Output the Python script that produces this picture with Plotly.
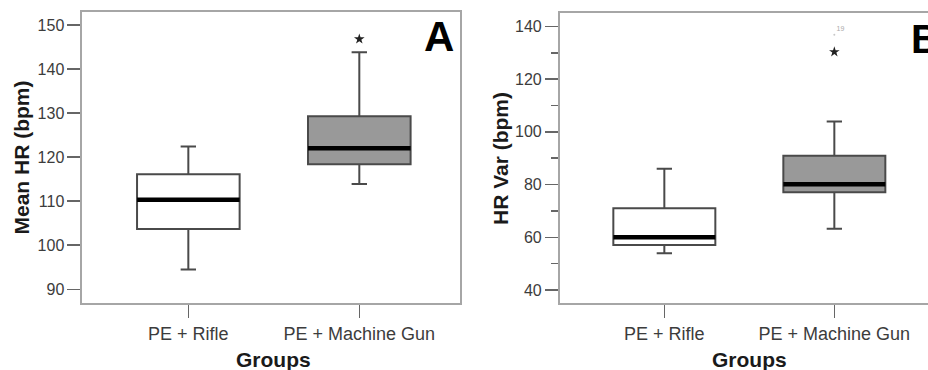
import plotly.graph_objects as go

# ---------------- data ----------------
groups = ["PE + Rifle", "PE + Machine Gun"]

# Panel A: Mean HR (bpm)
a_lower = [94.5, 113.9]
a_q1 = [103.7, 118.4]
a_median = [110.3, 122.0]
a_q3 = [116.1, 129.3]
a_upper = [122.4, 143.8]
a_out_group = [1]
a_out_value = [146.8]

# Panel B: HR Var (bpm)
b_lower = [53.9, 63.2]
b_q1 = [57.1, 77.1]
b_median = [60.0, 80.1]
b_q3 = [71.0, 90.9]
b_upper = [86.0, 103.9]
b_out_group = [1]
b_out_value = [130.3]
b_far_group = [1]
b_far_value = [136.8]
b_far_label = ["19"]

fills = ["#ffffff", "#999999"]

# ---------------- style ----------------
BOX_W = 0.6
FONT = "Liberation Sans, Arial, sans-serif"
LINE_C = "#4a4a4a"
FRAME_C = "#a6a6a6"
TICK_C = "#666666"
LABEL_C = "#3c3c3c"

fig = go.Figure()
shapes = []


def add_panel(xa, ya, lower, q1, med, q3, upper):
    for i, g in enumerate(groups):
        fig.add_trace(go.Box(
            x=[i], q1=[q1[i]], median=[med[i]], q3=[q3[i]],
            lowerfence=[lower[i]], upperfence=[upper[i]],
            width=BOX_W, whiskerwidth=0.15, fillcolor=fills[i],
            line=dict(color=LINE_C, width=2), boxpoints=False,
            xaxis=xa, yaxis=ya, showlegend=False, hoverinfo="skip"))
        shapes.append(dict(type="line", xref=xa, yref=ya,
                           x0=i - BOX_W / 2, x1=i + BOX_W / 2,
                           y0=med[i], y1=med[i],
                           line=dict(color="black", width=4.5)))


add_panel("x", "y", a_lower, a_q1, a_median, a_q3, a_upper)
add_panel("x2", "y2", b_lower, b_q1, b_median, b_q3, b_upper)

fig.add_trace(go.Scatter(x=a_out_group, y=a_out_value, mode="markers",
                         marker=dict(symbol="star", size=8, color="#222"),
                         xaxis="x", yaxis="y", showlegend=False))
fig.add_trace(go.Scatter(x=b_out_group, y=b_out_value, mode="markers",
                         marker=dict(symbol="star", size=8, color="#222"),
                         xaxis="x2", yaxis="y2", showlegend=False))
fig.add_trace(go.Scatter(x=b_far_group, y=b_far_value, mode="markers+text",
                         text=b_far_label, textposition="top right",
                         textfont=dict(size=7, color="#aaaaaa", family=FONT),
                         marker=dict(symbol="circle", size=2, color="#c8c8c8"),
                         xaxis="x2", yaxis="y2", showlegend=False))

xcommon = dict(tickvals=list(range(len(groups))), ticktext=groups,
               ticks="outside", ticklen=13, tickwidth=1.5, tickcolor=TICK_C,
               showline=True, linecolor=FRAME_C, linewidth=2,
               showgrid=False, zeroline=False,
               tickfont=dict(size=18, color=LABEL_C, family=FONT))
ycommon = dict(ticks="outside", ticklen=13, tickwidth=1.5, tickcolor=TICK_C,
               showline=True, linecolor=FRAME_C, linewidth=2,
               showgrid=False, zeroline=False,
               tickfont=dict(size=16, color=LABEL_C, family=FONT))

fig.update_layout(
    width=928, height=370,
    margin=dict(l=0, r=0, t=0, b=0),
    paper_bgcolor="white", plot_bgcolor="white",
    font=dict(family=FONT),
    xaxis=dict(domain=[0.0889, 0.4957], range=[-0.619, 1.589], anchor="y",
               mirror=True, **xcommon),
    yaxis=dict(domain=[0.1803, 0.9689], range=[86.82, 153.06], anchor="x",
               tick0=0, dtick=10, mirror=True, **ycommon),
    xaxis2=dict(domain=[0.6034, 1.0], range=[-0.614, 1.551], anchor="y2",
                mirror=True, **xcommon),
    yaxis2=dict(domain=[0.1803, 0.9657], range=[34.95, 145.2], anchor="x2",
                tick0=0, dtick=20, mirror=False,
                minor=dict(dtick=10, ticks="outside", ticklen=7,
                           tickwidth=1.5, tickcolor=TICK_C),
                **ycommon),
    shapes=shapes,
)

title_font = dict(family=FONT, size=21, color="#1a1a1a", weight="bold")
annos = [
    dict(text="Mean HR (bpm)", x=21, y=157.5, textangle=-90),
    dict(text="HR Var (bpm)", x=500, y=159, textangle=-90),
    dict(text="Groups", x=273, y=359, textangle=0),
    dict(text="Groups", x=749, y=359, textangle=0),
]
for a in annos:
    fig.add_annotation(text=a["text"], xref="paper", yref="paper",
                       x=a["x"] / 928, y=1 - a["y"] / 370,
                       xanchor="center", yanchor="middle",
                       textangle=a["textangle"], showarrow=False,
                       font=title_font)

fig.add_annotation(text="A", xref="paper", yref="paper", x=439 / 928,
                   y=1 - 37 / 370, xanchor="center", yanchor="middle",
                   showarrow=False,
                   font=dict(family=FONT, size=42, color="black", weight="bold"))
fig.add_annotation(text="B", xref="paper", yref="paper", x=909 / 928,
                   y=1 - 39 / 370, xanchor="left", yanchor="middle",
                   showarrow=False,
                   font=dict(family=FONT, size=40, color="black", weight="bold"))

fig.write_html(
    "out.html",
    config={"displayModeBar": False, "staticPlot": True},
    post_script="document.body.style.margin='0';document.body.style.overflow='hidden';",
)
